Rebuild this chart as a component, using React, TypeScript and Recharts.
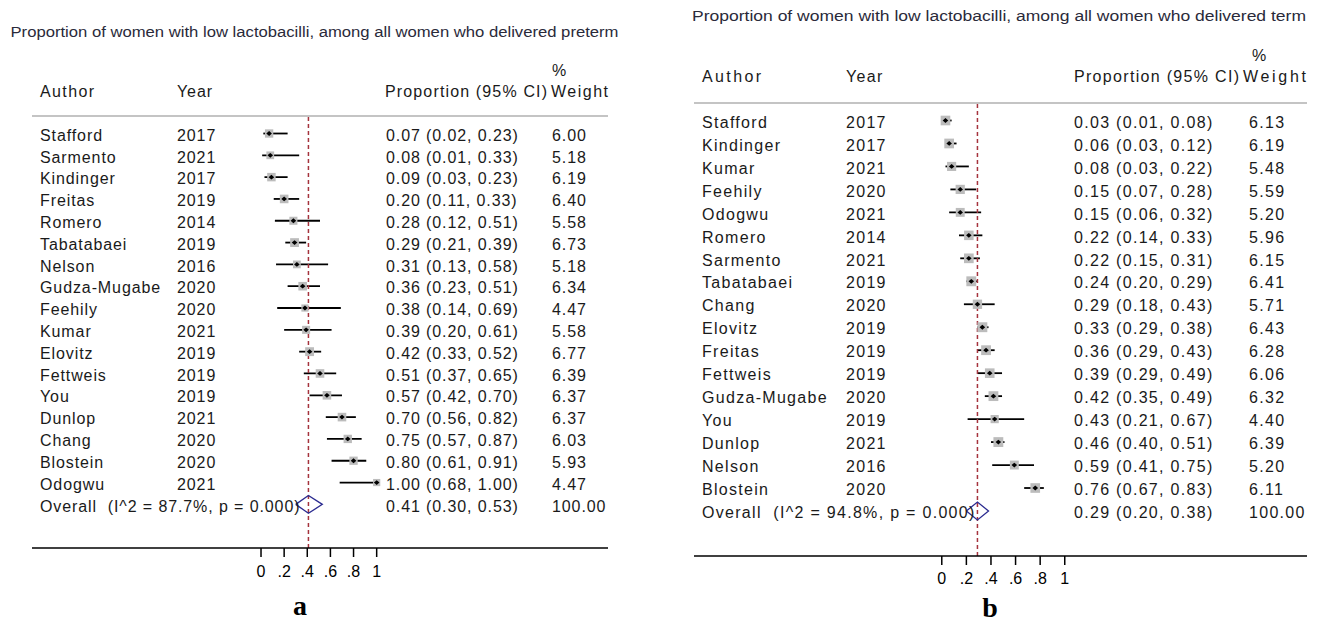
import React from 'react';
import { ComposedChart, Scatter, XAxis, YAxis, ReferenceLine, ErrorBar } from 'recharts';

// ---------- Panel a: preterm ----------
const pretermTitle = 'Proportion of women with low lactobacilli, among all women who delivered preterm';
const pretermAuthors = ['Stafford', 'Sarmento', 'Kindinger', 'Freitas', 'Romero', 'Tabatabaei', 'Nelson', 'Gudza-Mugabe', 'Feehily', 'Kumar', 'Elovitz', 'Fettweis', 'You', 'Dunlop', 'Chang', 'Blostein', 'Odogwu'];
const pretermYears = ['2017', '2021', '2017', '2019', '2014', '2019', '2016', '2020', '2020', '2021', '2019', '2019', '2019', '2021', '2020', '2020', '2021'];
const pretermEst = [0.07, 0.08, 0.09, 0.20, 0.28, 0.29, 0.31, 0.36, 0.38, 0.39, 0.42, 0.51, 0.57, 0.70, 0.75, 0.80, 1.00];
const pretermLow = [0.02, 0.01, 0.03, 0.11, 0.12, 0.21, 0.13, 0.23, 0.14, 0.20, 0.33, 0.37, 0.42, 0.56, 0.57, 0.61, 0.68];
const pretermHigh = [0.23, 0.33, 0.23, 0.33, 0.51, 0.39, 0.58, 0.51, 0.69, 0.61, 0.52, 0.65, 0.70, 0.82, 0.87, 0.91, 1.00];
const pretermWeight = [6.00, 5.18, 6.19, 6.40, 5.58, 6.73, 5.18, 6.34, 4.47, 5.58, 6.77, 6.39, 6.37, 6.37, 6.03, 5.93, 4.47];
const pretermOverall = [0.41, 0.30, 0.53];
const pretermI2 = '87.7%';
const pretermP = '0.000';

// ---------- Panel b: term ----------
const termTitle = 'Proportion of women with low lactobacilli, among all women who delivered term';
const termAuthors = ['Stafford', 'Kindinger', 'Kumar', 'Feehily', 'Odogwu', 'Romero', 'Sarmento', 'Tabatabaei', 'Chang', 'Elovitz', 'Freitas', 'Fettweis', 'Gudza-Mugabe', 'You', 'Dunlop', 'Nelson', 'Blostein'];
const termYears = ['2017', '2017', '2021', '2020', '2021', '2014', '2021', '2019', '2020', '2019', '2019', '2019', '2020', '2019', '2021', '2016', '2020'];
const termEst = [0.03, 0.06, 0.08, 0.15, 0.15, 0.22, 0.22, 0.24, 0.29, 0.33, 0.36, 0.39, 0.42, 0.43, 0.46, 0.59, 0.76];
const termLow = [0.01, 0.03, 0.03, 0.07, 0.06, 0.14, 0.15, 0.20, 0.18, 0.29, 0.29, 0.29, 0.35, 0.21, 0.40, 0.41, 0.67];
const termHigh = [0.08, 0.12, 0.22, 0.28, 0.32, 0.33, 0.31, 0.29, 0.43, 0.38, 0.43, 0.49, 0.49, 0.67, 0.51, 0.75, 0.83];
const termWeight = [6.13, 6.19, 5.48, 5.59, 5.20, 5.96, 6.15, 6.41, 5.71, 6.43, 6.28, 6.06, 6.32, 4.40, 6.39, 5.20, 6.11];
const termOverall = [0.29, 0.20, 0.38];
const termI2 = '94.8%';
const termP = '0.000';

// ---------- Axis ----------
const axisTicks = [0, 0.2, 0.4, 0.6, 0.8, 1];
const axisTickLabels = ['0', '.2', '.4', '.6', '.8', '1'];

const headerAuthor = 'Author';
const headerYear = 'Year';
const headerProp = 'Proportion (95% CI)';
const headerPct = '%';
const headerWeight = 'Weight';

const SANS = '"Liberation Sans", Arial, Helvetica, sans-serif';
const SERIF = '"Liberation Serif", "Times New Roman", Times, serif';
const TEXT = '#1a1a1a';

const f2 = (v: number) => v.toFixed(2);

function buildRows(authors: string[], years: string[], est: number[], lo: number[], hi: number[], w: number[]) {
  return authors.map((a, i) => ({
    x: est[i],
    y: i,
    author: a,
    year: years[i],
    lo: lo[i],
    hi: hi[i],
    w: w[i],
    err: [est[i] - lo[i], hi[i] - est[i]],
    label: `${f2(est[i])} (${f2(lo[i])}, ${f2(hi[i])})`,
    weight: f2(w[i]),
  }));
}

type Cfg = {
  left: number;
  width: number;
  margin: { top: number; right: number; bottom: number; left: number };
  xDomain: [number, number];
  yDomain: [number, number];
  boxK: number;
  ls: number;
  diamondH: number;
  textDy: number;
  tickMargin: number;
  cols: { author: number; year: number; prop: number; weight: number };
};

const cfgA: Cfg = {
  left: 0,
  width: 660,
  margin: { top: 116, right: 52, bottom: 44, left: 32 },
  xDomain: [-1.98, 3.0],
  yDomain: [-0.802, 19.0],
  boxK: 3.4,
  ls: 0.9,
  diamondH: 0.41,
  textDy: 1.5,
  tickMargin: 9,
  cols: { author: 40, year: 177, prop: 386, weight: 552 },
};

const cfgB: Cfg = {
  left: 660,
  width: 665,
  margin: { top: 103, right: 18, bottom: 36, left: 34 },
  xDomain: [-2.015, 2.97],
  yDomain: [-0.762, 18.96],
  boxK: 3.9,
  ls: 1.3,
  diamondH: 0.39,
  textDy: 1.5,
  tickMargin: 8,
  cols: { author: 42, year: 186, prop: 414, weight: 589 },
};

function Panel(props: {
  cfg: Cfg;
  authors: string[];
  years: string[];
  est: number[];
  lo: number[];
  hi: number[];
  w: number[];
  overall: number[];
  i2: string;
  p: string;
}) {
  const { cfg, authors, years, est, lo, hi, w, overall, i2, p } = props;
  const rows = buildRows(authors, years, est, lo, hi, w);
  const n = rows.length;
  const [oEst, oLo, oHi] = overall;
  const diamond = [
    { x: oLo, y: n },
    { x: oEst, y: n - cfg.diamondH },
    { x: oHi, y: n },
    { x: oEst, y: n + cfg.diamondH },
    { x: oLo, y: n },
  ];
  const overallRow = [{ x: oEst, y: n, label: `${f2(oEst)} (${f2(oLo)}, ${f2(oHi)})`, weight: '100.00', name: `Overall  (I^2 = ${i2}, p = ${p})` }];

  const textProps = {
    fontFamily: SANS,
    fontSize: 16,
    fill: TEXT,
    letterSpacing: cfg.ls,
    style: { whiteSpace: 'pre' as const },
  };
  const base = (cy: number) => cy + cfg.textDy + 5.7;

  const boxShape = (sp: any) => {
    const { cx, cy, payload } = sp;
    const s = cfg.boxK * Math.sqrt(payload.w);
    const by = base(cy);
    return (
      <g>
        <rect x={cx - s / 2} y={cy - s / 2} width={s} height={s} fill="#bcbcbc" />
        <text x={cfg.cols.author} y={by} {...textProps}>{payload.author}</text>
        <text x={cfg.cols.year} y={by} {...textProps}>{payload.year}</text>
        <text x={cfg.cols.prop} y={by} {...textProps}>{payload.label}</text>
        <text x={cfg.cols.weight} y={by} {...textProps}>{payload.weight}</text>
      </g>
    );
  };

  const markShape = (sp: any) => {
    const { cx, cy } = sp;
    return <path d={`M${cx - 2.8},${cy} L${cx},${cy - 2.4} L${cx + 2.8},${cy} L${cx},${cy + 2.4} Z`} fill="#000" />;
  };

  const overallShape = (sp: any) => {
    const { cy, payload } = sp;
    const by = base(cy);
    return (
      <g>
        <text x={cfg.cols.author} y={by} {...textProps}>{payload.name}</text>
        <text x={cfg.cols.prop} y={by} {...textProps}>{payload.label}</text>
        <text x={cfg.cols.weight} y={by} {...textProps}>{payload.weight}</text>
      </g>
    );
  };

  return (
    <div style={{ position: 'absolute', left: cfg.left, top: 0, width: cfg.width, height: 622 }}>
      <ComposedChart width={cfg.width} height={622} margin={cfg.margin}>
        <XAxis
          type="number"
          dataKey="x"
          domain={cfg.xDomain}
          allowDataOverflow
          ticks={axisTicks}
          tickFormatter={(v: number) => axisTickLabels[axisTicks.indexOf(v)] ?? String(v)}
          interval={0}
          height={30}
          tickSize={9}
          tickMargin={cfg.tickMargin}
          axisLine={{ stroke: '#000', strokeWidth: 1.5 }}
          tickLine={{ stroke: '#000', strokeWidth: 1.5 }}
          tick={{ fontFamily: SANS, fontSize: 16, fill: '#000' }}
        />
        <YAxis type="number" dataKey="y" domain={cfg.yDomain} allowDataOverflow reversed hide />
        <ReferenceLine y={cfg.yDomain[0]} stroke="#c4c4c4" strokeWidth={2} />
        <Scatter data={rows} shape={boxShape} isAnimationActive={false} />
        <Scatter data={rows} shape={markShape} isAnimationActive={false}>
          <ErrorBar dataKey="err" direction="x" width={0} stroke="#000" strokeWidth={1.8} isAnimationActive={false} />
        </Scatter>
        <Scatter
          data={diamond}
          shape={() => <g />}
          line={{ stroke: '#2b2b90', strokeWidth: 1.3 }}
          lineType="joint"
          isAnimationActive={false}
        />
        <Scatter data={overallRow} shape={overallShape} isAnimationActive={false} />
        <ReferenceLine x={oEst} stroke="#a5333d" strokeWidth={1.5} strokeDasharray="4 3" />
      </ComposedChart>
    </div>
  );
}

export default function App() {
  return (
    <div style={{ position: 'absolute', left: 0, top: 0, width: 1325, height: 622, background: '#fff', overflow: 'hidden' }}>
      <svg width={1325} height={622} style={{ position: 'absolute', left: 0, top: 0 }}>
        {/* Panel a headers */}
        <text x={10.5} y={37} fontFamily={SANS} fontSize={14} fill="#2a2a3a" textLength={608} lengthAdjust="spacingAndGlyphs">{pretermTitle}</text>
        <text x={552} y={75.5} fontFamily={SANS} fontSize={16} fill={TEXT}>{headerPct}</text>
        <text x={40} y={97} fontFamily={SANS} fontSize={16} fill={TEXT} textLength={54}>{headerAuthor}</text>
        <text x={177} y={97} fontFamily={SANS} fontSize={16} fill={TEXT} letterSpacing={0.9}>{headerYear}</text>
        <text x={385} y={97} fontFamily={SANS} fontSize={16} fill={TEXT} textLength={162}>{headerProp}</text>
        <text x={551} y={97} fontFamily={SANS} fontSize={16} fill={TEXT} textLength={57}>{headerWeight}</text>
        <text x={300} y={615} fontFamily={SERIF} fontSize={28} fontWeight="bold" fill="#000" textAnchor="middle">a</text>

        {/* Panel b headers */}
        <text x={692} y={20.5} fontFamily={SANS} fontSize={14} fill="#2a2a3a" textLength={614} lengthAdjust="spacingAndGlyphs">{termTitle}</text>
        <text x={1252} y={61} fontFamily={SANS} fontSize={16} fill={TEXT}>{headerPct}</text>
        <text x={702} y={82} fontFamily={SANS} fontSize={16} fill={TEXT} textLength={59}>{headerAuthor}</text>
        <text x={846} y={82} fontFamily={SANS} fontSize={16} fill={TEXT} letterSpacing={1.3}>{headerYear}</text>
        <text x={1074} y={82} fontFamily={SANS} fontSize={16} fill={TEXT} textLength={165}>{headerProp}</text>
        <text x={1243} y={82} fontFamily={SANS} fontSize={16} fill={TEXT} textLength={63}>{headerWeight}</text>
        <text x={990} y={617} fontFamily={SERIF} fontSize={28} fontWeight="bold" fill="#000" textAnchor="middle">b</text>
      </svg>
      <Panel cfg={cfgA} authors={pretermAuthors} years={pretermYears} est={pretermEst} lo={pretermLow} hi={pretermHigh} w={pretermWeight} overall={pretermOverall} i2={pretermI2} p={pretermP} />
      <Panel cfg={cfgB} authors={termAuthors} years={termYears} est={termEst} lo={termLow} hi={termHigh} w={termWeight} overall={termOverall} i2={termI2} p={termP} />
    </div>
  );
}
